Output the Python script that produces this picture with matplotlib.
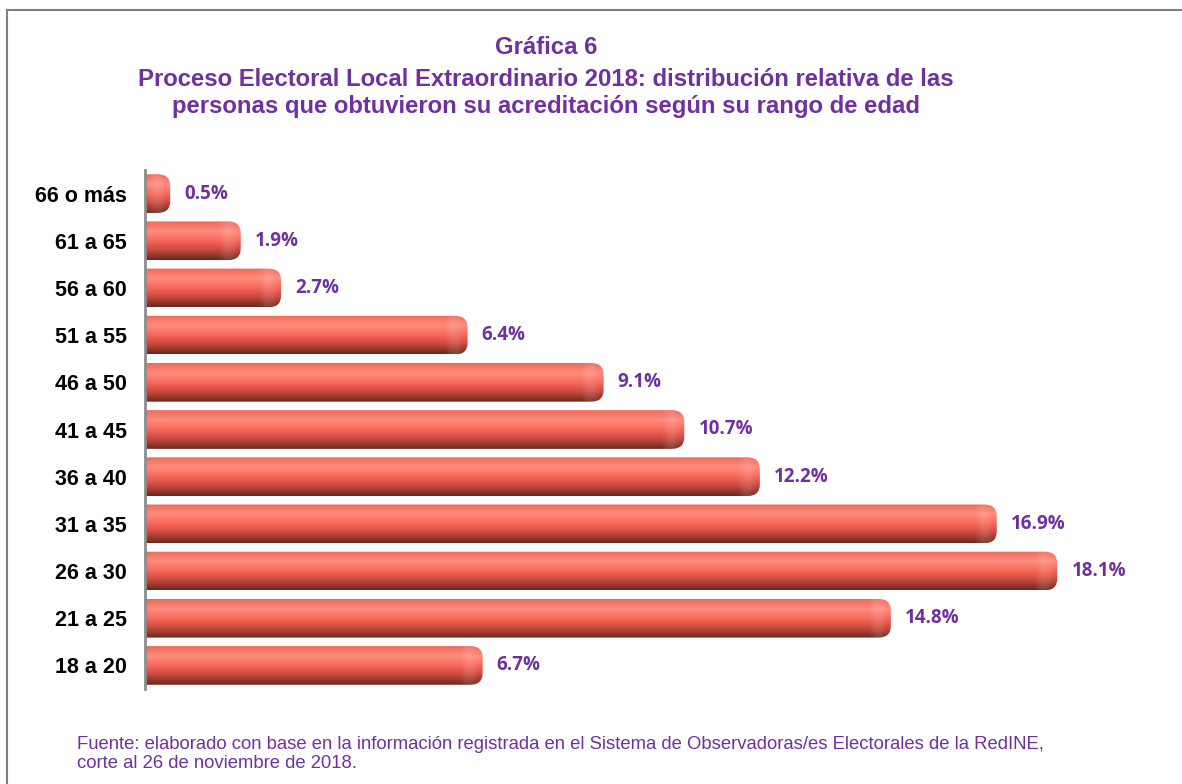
import numpy as np
import matplotlib.pyplot as plt
from matplotlib.patches import FancyBboxPatch
from matplotlib.lines import Line2D
from matplotlib.colors import LinearSegmentedColormap

# datos de la gráfica (de abajo hacia arriba)
edades = ['18 a 20', '21 a 25', '26 a 30', '31 a 35', '36 a 40', '41 a 45',
          '46 a 50', '51 a 55', '56 a 60', '61 a 65', '66 o más']
porcentajes = [6.7, 14.8, 18.1, 16.9, 12.2, 10.7, 9.1, 6.4, 2.7, 1.9, 0.5]

titulo = ['Gráfica 6',
          'Proceso Electoral Local Extraordinario 2018: distribución relativa de las',
          'personas que obtuvieron su acreditación según su rango de edad']
fuente = ('Fuente: elaborado con base en la información registrada en el Sistema de '
          'Observadoras/es Electorales de la RedINE,\ncorte al 26 de noviembre de 2018.')

morado = '#7030A0'

fig = plt.figure(figsize=(11.82, 7.84), dpi=100)
ax = fig.add_axes([145 / 1182, 1 - 689 / 784, 1008 / 1182, 519 / 784])

# degradado vertical para el efecto 3D (fila 0 = arriba)
cmap = LinearSegmentedColormap.from_list('barra', [
    (0.0, '#ee6a5a'), (0.25, '#ff8c7e'), (0.5, '#f8685a'),
    (0.75, '#c8473b'), (1.0, '#6a2820')])
grad = np.linspace(0, 1, 64).reshape(-1, 1)

# brillo suave en el extremo derecho
brillo = np.zeros((1, 32, 4))
brillo[..., :3] = 1.0
brillo[0, :, 3] = np.sin(np.linspace(0, np.pi, 32)) ** 2 * 0.12

alto = 0.82
for i, v in enumerate(porcentajes):
    caja = FancyBboxPatch((-0.5, i - alto / 2), v + 0.5, alto,
                          boxstyle='round,pad=0,rounding_size=0.25',
                          facecolor='none', edgecolor='none')
    ax.add_patch(caja)
    im = ax.imshow(grad, cmap=cmap, aspect='auto', interpolation='bilinear',
                   extent=[-0.5, v, i - alto / 2, i + alto / 2], zorder=2)
    im.set_clip_path(caja)
    im2 = ax.imshow(brillo, aspect='auto', interpolation='bilinear',
                    extent=[v - 0.5, v - 0.02, i - alto / 2, i + alto / 2], zorder=3)
    im2.set_clip_path(caja)
    ax.text(v + 0.28, i, f'{v}%', va='center', ha='left', color=morado,
            fontsize=13.5, fontweight='bold', family='Open Sans')

ax.set_xlim(0, 20)
ax.set_ylim(-0.5, 10.5)
ax.set_yticks(range(len(edades)))
ax.set_yticklabels(edades, fontsize=15.5, fontweight='bold', family='Liberation Sans')
ax.tick_params(axis='y', length=0, pad=13)
ax.set_xticks([])
for lado in ['top', 'right', 'bottom']:
    ax.spines[lado].set_visible(False)
ax.spines['left'].set_color('#8c8c8c')
ax.spines['left'].set_linewidth(2)
ax.spines['left'].set_zorder(4)

# títulos
ys = [48, 80, 107]
for t, y in zip(titulo, ys):
    fig.text(546 / 1182, 1 - y / 784, t, ha='center', va='center', color=morado,
             fontsize=17.2, fontweight='bold', family='Liberation Sans')

fig.text(77 / 1182, 1 - 754 / 784, fuente, ha='left', va='center', color=morado,
         fontsize=13.3, family='Liberation Sans', linespacing=1.2)

# marco
fig.add_artist(Line2D([7 / 1182, 1], [1 - 10 / 784, 1 - 10 / 784],
                      color='#808080', lw=1.5))
fig.add_artist(Line2D([7 / 1182, 7 / 1182], [0, 1 - 10 / 784],
                      color='#808080', lw=1.5))

fig.savefig('out.png', dpi=100)
